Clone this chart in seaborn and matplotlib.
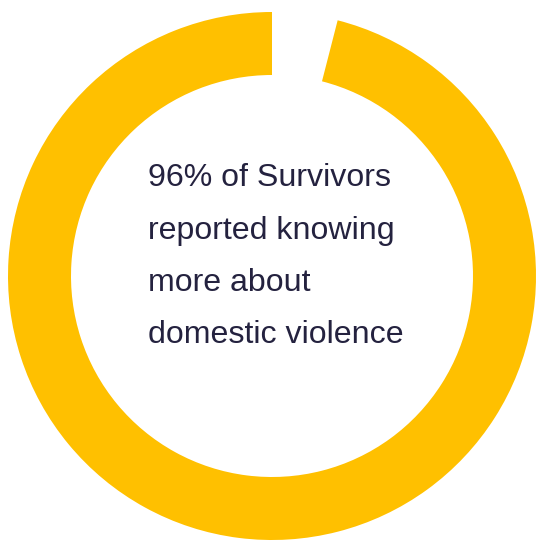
import matplotlib
matplotlib.use('Agg')
import matplotlib.pyplot as plt
import seaborn as sns

# Data
labels = ['Knowing more', 'Not']
values = [96, 4]
colors = ['#FFC000', 'none']
text_lines = ['96% of Survivors', 'reported knowing', 'more about', 'domestic violence']

sns.set_style('white')
plt.rcParams['font.family'] = ['Liberation Sans', 'DejaVu Sans']

W, H = 540, 544
cx, cy, R = 272, 276, 264
fig = plt.figure(figsize=(W / 100, H / 100), dpi=100)
ax = fig.add_axes([0, 0, 1, 1])

ax.pie(values, colors=colors, startangle=90, counterclock=True,
       radius=1, wedgeprops=dict(width=63 / R, linewidth=0))
ax.set_xlim(-cx / R, (W - cx) / R)
ax.set_ylim((cy - H) / R, cy / R)
ax.set_aspect('equal')
ax.axis('off')

# centre text
baselines = [186, 239, 291, 343]
for line, yb in zip(text_lines, baselines):
    fig.text(148 / W, 1 - yb / H, line, fontsize=23.1, color='#24223F',
             ha='left', va='baseline')

plt.savefig('out.png', dpi=100)
